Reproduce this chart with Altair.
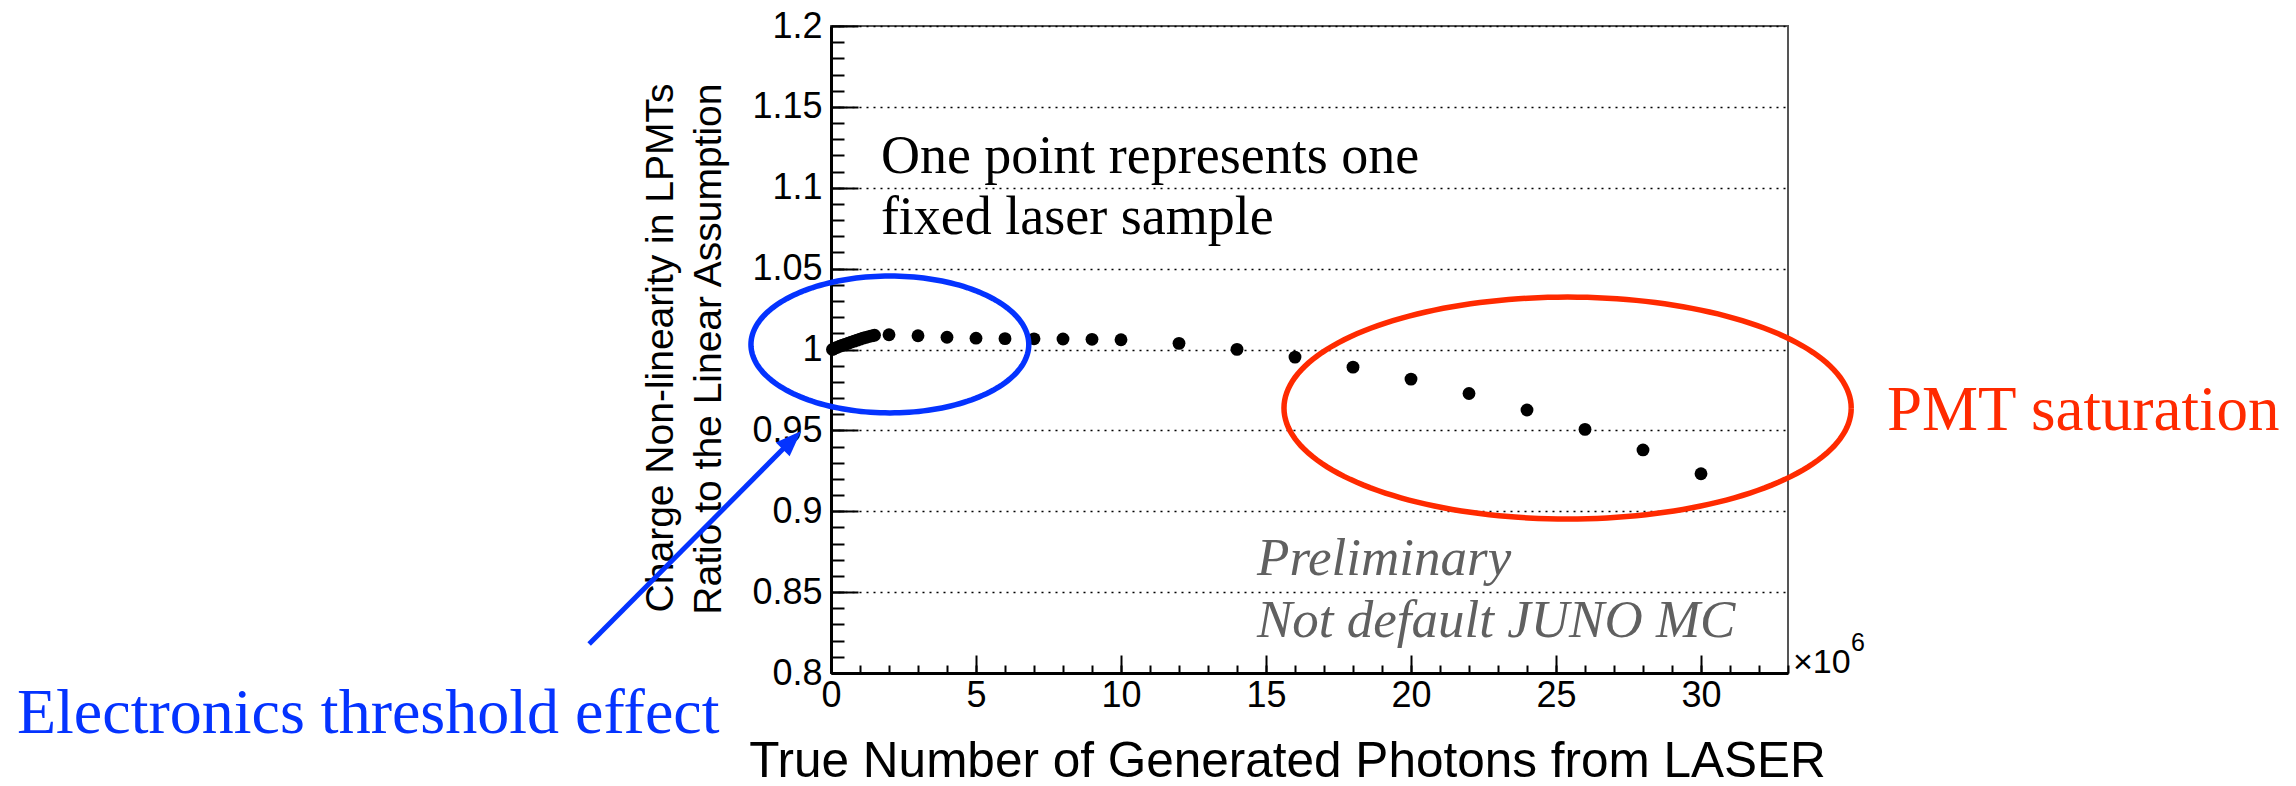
import altair as alt
import numpy as np
import pandas as pd

# Laser samples: true photon count (x 10^6) and charge ratio to the linear assumption
photons_e6 = [0.05, 0.1, 0.2, 0.3, 0.4, 0.5, 0.6, 0.7, 0.8, 0.9, 1.0, 1.1, 1.2, 1.3, 1.4, 1.5,
              2, 3, 4, 5, 6, 7, 8, 9, 10, 12, 14, 16, 18, 20, 22, 24, 26, 28, 30]
charge_ratio = [1.0000, 1.0005, 1.0013, 1.0020, 1.0027, 1.0033, 1.0039, 1.0046, 1.0052, 1.0058,
                1.0064, 1.0070, 1.0075, 1.0080, 1.0084, 1.0088,
                1.0091, 1.0085, 1.0076, 1.0070, 1.0067, 1.0066, 1.0065, 1.0063, 1.0060,
                1.0038, 1.0001, 0.9953, 0.9891, 0.9817, 0.9728, 0.9626, 0.9506, 0.9379, 0.9232]

# Axis ticks
x_major = [0, 5, 10, 15, 20, 25, 30]
x_minor = list(range(0, 34))
y_major = [0.8, 0.85, 0.9, 0.95, 1.0, 1.05, 1.1, 1.15, 1.2]
y_minor = [round(0.8 + 0.01 * i, 2) for i in range(41)]

W, H = 957, 647
SANS = "Liberation Sans"
SERIF = "Liberation Serif"
BLUE = "#0433ff"
RED = "#ff2a00"

points = pd.DataFrame({"x": photons_e6, "y": charge_ratio})

xs = alt.Scale(domain=[0, 33], nice=False, zero=False)
ys = alt.Scale(domain=[0.8, 1.2], nice=False, zero=False)

# Scatter with main axes (labels, titles, grid)
main = alt.Chart(points).mark_circle(size=165, color="black", opacity=1).encode(
    x=alt.X("x:Q", scale=xs, axis=alt.Axis(
        orient="bottom", values=x_major, format="d", ticks=False, grid=False,
        domainColor="black", domainWidth=3,
        labelFont=SANS, labelFontSize=36, labelColor="black", labelPadding=5,
        labelOverlap=False, labelFlush=False, labelBound=False,
        title="True Number of Generated Photons from LASER",
        titleFont=SANS, titleFontSize=49.5, titleFontWeight="normal", titleColor="black",
        titleBaseline="alphabetic", titleAlign="center", titleX=456, titleY=103)),
    y=alt.Y("y:Q", scale=ys, axis=alt.Axis(
        orient="left", values=y_major, format=".3~f", ticks=False,
        grid=True, gridColor="black", gridDash=[2, 5], gridWidth=1.5, gridOpacity=1,
        domainColor="black", domainWidth=3,
        labelFont=SANS, labelFontSize=36, labelColor="black", labelPadding=9,
        labelOverlap=False, labelFlush=False, labelBound=False,
        title=["Charge Non-linearity in LPMTs", "Ratio to the Linear Assumption"],
        titleFont=SANS, titleFontSize=39, titleFontWeight="normal", titleColor="black",
        titleAngle=-90, titleAlign="right", titleBaseline="alphabetic",
        titleLineHeight=48, titleX=-159, titleY=57)),
)


def x_ticks(values, size):
    # inward ticks along the bottom edge
    return alt.Chart(points).mark_circle(opacity=0).encode(
        x=alt.X("x:Q", scale=xs, axis=alt.Axis(
            orient="top", offset=-H, values=values, tickSize=size, tickWidth=2,
            tickColor="black", labels=False, domain=False, grid=False, title=None)),
        y=alt.Y("y:Q", scale=ys, axis=None),
    )


def y_ticks(values, size):
    # inward ticks along the left edge
    return alt.Chart(points).mark_circle(opacity=0).encode(
        x=alt.X("x:Q", scale=xs, axis=None),
        y=alt.Y("y:Q", scale=ys, axis=alt.Axis(
            orient="right", offset=-W, values=values, tickSize=size, tickWidth=2,
            tickColor="black", labels=False, domain=False, grid=False, title=None)),
    )


# Highlight ellipses (centre, semi-axes in data units)
def ellipse(cx, cy, a, b, n=180):
    t = np.linspace(0, 2 * np.pi, n + 1)
    return pd.DataFrame({"x": cx + a * np.cos(t), "y": cy + b * np.sin(t), "k": np.arange(n + 1)})


def outline(df, color):
    return alt.Chart(df).mark_line(color=color, strokeWidth=5.5, clip=False).encode(
        x=alt.X("x:Q", scale=xs, axis=None),
        y=alt.Y("y:Q", scale=ys, axis=None),
        order="k:Q",
    )


blue_ring = outline(ellipse(2.03, 1.0031, 4.79, 0.0423), BLUE)
red_ring = outline(ellipse(25.40, 0.9638, 9.78, 0.0686), RED)

# Arrow pointing at the low-light region
shaft = alt.Chart(pd.DataFrame({"x": [-8.34, -1.52], "y": [0.8179, 0.9409], "k": [0, 1]})).mark_line(
    color=BLUE, strokeWidth=5, strokeCap="butt", clip=False).encode(
    x=alt.X("x:Q", scale=xs, axis=None),
    y=alt.Y("y:Q", scale=ys, axis=None),
    order="k:Q",
)
head = alt.Chart(pd.DataFrame({"x": [-1.03], "y": [0.9496]})).mark_point(
    shape="M 0 0 L 0.75 2 L -0.75 2 Z", size=676, angle=45, filled=True,
    color=BLUE, opacity=1, strokeWidth=0, clip=False).encode(
    x=alt.X("x:Q", scale=xs, axis=None),
    y=alt.Y("y:Q", scale=ys, axis=None),
)


def label(x, y, text, size, color="black", style="normal", line_height=None, dx=0, dy=0, font=SERIF):
    kw = dict(align="left", baseline="alphabetic", font=font, fontSize=size,
              color=color, fontStyle=style, dx=dx, dy=dy, clip=False)
    if line_height is not None:
        kw.update(lineBreak="\n", lineHeight=line_height)
    return alt.Chart(pd.DataFrame({"x": [x], "y": [y], "t": [text]})).mark_text(**kw).encode(
        x=alt.X("x:Q", scale=xs, axis=None),
        y=alt.Y("y:Q", scale=ys, axis=None),
        text="t:N",
    )


note = label(1.72, 1.1091, "One point represents one\nfixed laser sample", 54, line_height=61)
prelim = label(14.69, 0.8606, "Preliminary\nNot default JUNO MC", 53, color="#606060",
               style="italic", line_height=62)
pmt = label(36.41, 0.9502, "PMT saturation", 63, color=RED)
elec = label(-28.07, 0.7629, "Electronics threshold effect", 64, color=BLUE)
exp_base = label(33, 0.8, "\u00d710", 34, dx=5, font=SANS)
exp_pow = label(33, 0.8, "6", 25, dx=63, dy=-22, font=SANS)

chart = alt.layer(
    main,
    x_ticks(x_minor, 8), x_ticks(x_major, 18),
    y_ticks(y_minor, 13), y_ticks(y_major, 27),
    blue_ring, red_ring, shaft, head,
    note, prelim, pmt, elec, exp_base, exp_pow,
).resolve_axis(x="independent", y="independent").properties(
    width=W, height=H,
    autosize="none",
    padding={"left": 831, "top": 26, "right": 2296 - 831 - W, "bottom": 786 - 26 - H},
    background="white",
).configure_view(stroke="#555555", strokeWidth=2)

chart.save("out.html", embed_options={"renderer": "svg", "actions": False})
